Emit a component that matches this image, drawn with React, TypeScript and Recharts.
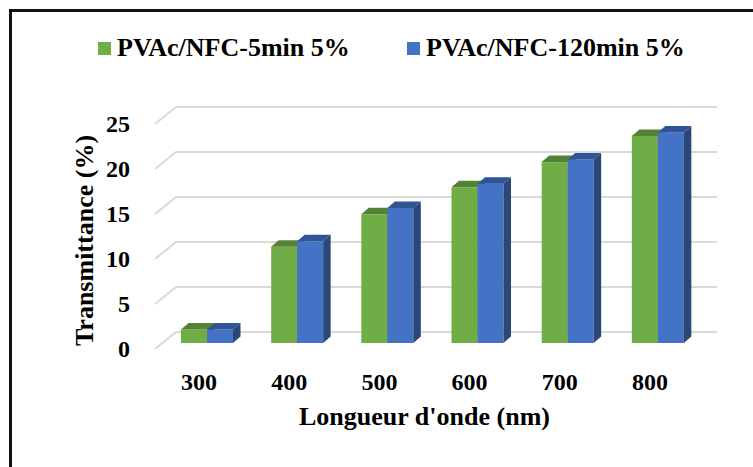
import { BarChart, Bar, XAxis, YAxis, CartesianGrid, Label } from "recharts";

// values
const wavelengths = ["300", "400", "500", "600", "700", "800"];
const pvac5min = [1.5, 10.7, 14.3, 17.3, 20.1, 23.0];
const pvac120min = [1.5, 11.3, 15.0, 17.7, 20.4, 23.4];
const yTicks = [0, 5, 10, 15, 20, 25];

const seriesNames = ["PVAc/NFC-5min 5%", "PVAc/NFC-120min 5%"];

const data = wavelengths.map((wl, i) => ({
  wl,
  s5: pvac5min[i],
  s120: pvac120min[i],
}));

const FONT = "'Liberation Serif', 'Times New Roman', serif";

// 3D depth of a bar, and how far the back wall / front edge sit from the bar faces
const DX = 7.5;
const DY = 6.5;
const BACK_DX = 14;
const BACK_DY = -11;
const FRONT_DX = -7;
const FRONT_DY = 6;

const Bar3D = (props: any) => {
  const { x, y, width, height, front, top, side } = props;
  if (!height || height <= 0) return null;
  const topFace = `M${x},${y} L${x + DX},${y - DY} L${x + width + DX},${y - DY} L${x + width},${y} Z`;
  const sideFace = `M${x + width},${y} L${x + width + DX},${y - DY} L${x + width + DX},${y + height - DY} L${x + width},${y + height} Z`;
  return (
    <g>
      <rect x={x} y={y} width={width} height={height} fill={front} />
      <path d={topFace} fill={top} />
      <path d={sideFace} fill={side} />
    </g>
  );
};

const gridLine = (p: any) => {
  const { x1, x2, y1, key } = p;
  const d = `M${x1 + FRONT_DX},${y1 + FRONT_DY} L${x1 + BACK_DX},${y1 + BACK_DY} L${x2 + BACK_DX},${y1 + BACK_DY}`;
  return <path key={key} d={d} fill="none" stroke="#d9d9d9" strokeWidth={2} />;
};

const YTick = (p: any) => (
  <text x={p.x - 30} y={p.y + FRONT_DY} dy={8} textAnchor="end" fontFamily={FONT} fontWeight="bold" fontSize={24} fill="#000">
    {p.payload.value}
  </text>
);

const XTick = (p: any) => (
  <text x={p.x - 8} y={p.y + 45} textAnchor="middle" fontFamily={FONT} fontWeight="bold" fontSize={24} fill="#000">
    {p.payload.value}
  </text>
);

const legendColors = ["#70ad47", "#4472c4"];
const legendLeft = [98, 407];

export default function App() {
  return (
    <div style={{ position: "fixed", left: 0, top: 0, width: 753, height: 467, background: "#fff", overflow: "hidden" }}>
      <div
        style={{
          position: "absolute",
          left: 9,
          top: 9,
          width: 800,
          height: 500,
          border: "3px solid #111",
          boxSizing: "border-box",
        }}
      />
      {seriesNames.map((name, i) => (
        <div
          key={name}
          style={{
            position: "absolute",
            left: legendLeft[i],
            top: 33,
            height: 30,
            display: "flex",
            alignItems: "center",
            fontFamily: FONT,
            fontWeight: "bold",
            fontSize: 26,
            color: "#000",
            whiteSpace: "nowrap",
          }}
        >
          <span style={{ display: "inline-block", width: 13, height: 13, background: legendColors[i], marginRight: 6 }} />
          {name}
        </div>
      ))}
      <div style={{ position: "absolute", left: 0, top: 0 }}>
        <BarChart
          width={753}
          height={467}
          data={data}
          margin={{ top: 118, right: 50, bottom: 44, left: 102 }}
          barGap={0}
          barSize={26}
        >
          <CartesianGrid vertical={false} horizontal={gridLine} />
          <XAxis dataKey="wl" axisLine={false} tickLine={false} tickSize={0} height={80} interval={0} tick={<XTick />}>
            <Label
              content={(lp: any) => {
                const vb = lp.viewBox;
                return (
                  <text x={vb.x + vb.width / 2 - 8} y={vb.y + 82} textAnchor="middle" fontFamily={FONT} fontWeight="bold" fontSize={26} fill="#000">
                    Longueur d'onde (nm)
                  </text>
                );
              }}
            />
          </XAxis>
          <YAxis
            domain={[0, 25]}
            ticks={yTicks}
            axisLine={false}
            tickLine={false}
            tickSize={0}
            width={60}
            tick={<YTick />}
          >
            <Label
              content={(lp: any) => {
                const vb = lp.viewBox;
                const cx = 84;
                const cy = vb.y + vb.height / 2 + 10;
                return (
                  <text x={cx} y={cy} transform={`rotate(-90, ${cx}, ${cy})`} textAnchor="middle" dominantBaseline="central" fontFamily={FONT} fontWeight="bold" fontSize={26} fill="#000">
                    Transmittance (%)
                  </text>
                );
              }}
            />
          </YAxis>
          <Bar
            dataKey="s5"
            name={seriesNames[0]}
            isAnimationActive={false}
            shape={(p: any) => <Bar3D {...p} front="#70ad47" top="#548235" side="#4e7a30" />}
          />
          <Bar
            dataKey="s120"
            name={seriesNames[1]}
            isAnimationActive={false}
            shape={(p: any) => <Bar3D {...p} front="#4472c4" top="#2f5597" side="#2a4778" />}
          />
        </BarChart>
      </div>
    </div>
  );
}
